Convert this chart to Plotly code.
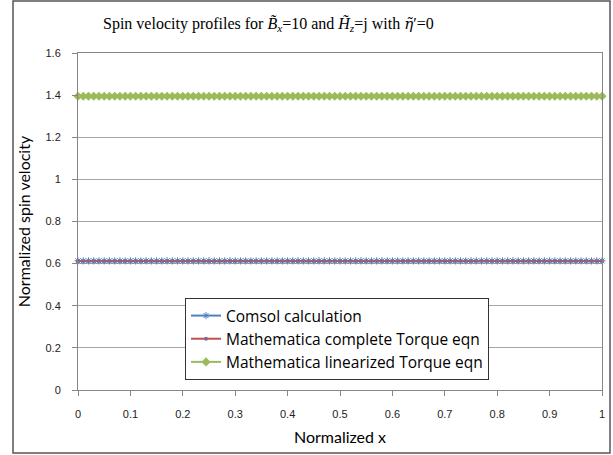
import plotly.graph_objects as go

x_norm = [i / 100 for i in range(101)]
comsol = [0.613] * len(x_norm)
math_complete = [0.613] * len(x_norm)
math_linear = [1.395] * len(x_norm)

y_ticks = [0, 0.2, 0.4, 0.6, 0.8, 1, 1.2, 1.4, 1.6]
x_ticks = [0, 0.1, 0.2, 0.3, 0.4, 0.5, 0.6, 0.7, 0.8, 0.9, 1]

fig = go.Figure()
fig.add_trace(go.Scatter(
    x=x_norm, y=comsol, mode="lines+markers", name="Comsol calculation",
    line=dict(color="#4F81BD", width=2), cliponaxis=False,
    marker=dict(symbol="asterisk-open", size=6, color="#4F81BD",
                line=dict(color="#4F81BD", width=1))))
fig.add_trace(go.Scatter(
    x=x_norm, y=math_complete, mode="lines+markers",
    name="Mathematica complete Torque eqn", cliponaxis=False,
    line=dict(color="#C0504D", width=2),
    marker=dict(symbol="circle", size=4, color="#7F6A92")))
fig.add_trace(go.Scatter(
    x=x_norm, y=math_linear, mode="lines+markers",
    name="Mathematica linearized Torque eqn", cliponaxis=False,
    line=dict(color="#9BBB59", width=2),
    marker=dict(symbol="diamond", size=7, color="#9BBB59")))

tick_font = dict(family="Liberation Sans, Arial", size=11, color="#222222")
label_font = dict(family="Lato, Liberation Sans", size=16, color="#000000")

fig.update_layout(
    width=613, height=455,
    margin=dict(l=78, r=11, t=53, b=65, autoexpand=False),
    paper_bgcolor="white", plot_bgcolor="white",
    showlegend=True,
    legend=dict(x=(185 - 78) / 524, y=(390 - 298) / 337,
                xanchor="left", yanchor="top",
                bgcolor="white", bordercolor="#333333", borderwidth=1,
                font=dict(family="Open Sans, Liberation Sans", size=15.5,
                          color="#000000"),
                tracegroupgap=0, itemwidth=30),
    xaxis=dict(range=[0, 1], tickvals=x_ticks,
               ticktext=[f"{v:g}" for v in x_ticks],
               showgrid=False, zeroline=False, automargin=False,
               showline=True, linecolor="#868686", linewidth=1, mirror=True,
               ticks="outside", ticklen=5, tickcolor="#868686",
               tickfont=tick_font, ticklabelstandoff=9,
               title=dict(text="Normalized x", font=label_font, standoff=12)),
    yaxis=dict(range=[0, 1.6], tickvals=y_ticks,
               ticktext=[f"{v:g}" for v in y_ticks],
               showgrid=True, gridcolor="#A6A6A6", gridwidth=1,
               zeroline=False, automargin=False,
               showline=True, linecolor="#868686", linewidth=1, mirror=True,
               ticks="outside", ticklen=5, tickcolor="#868686",
               tickfont=tick_font, ticklabelstandoff=9,
               title=dict(text="Normalized spin velocity", font=label_font,
                          standoff=10)),
    annotations=[dict(
        text="Spin velocity profiles for <i>B̃</i><sub><i>x</i></sub>=10 and "
             "<i>H̃</i><sub><i>z</i></sub>=j with "
             "<span style=\"font-family:DejaVu Serif;font-size:15px\"><i>η̃</i></span>′=0",
        xref="paper", yref="paper", x=(268 - 78) / 524, y=(390 - 24) / 337,
        xanchor="center", yanchor="middle", showarrow=False,
        font=dict(family="Liberation Serif, Times New Roman", size=16,
                  color="#000000"))],
    shapes=[dict(type="rect", xref="paper", yref="paper",
                 x0=(13 - 78) / 524, x1=(610 - 78) / 524,
                 y0=(390 - 453) / 337, y1=(390 - 1) / 337,
                 line=dict(color="#555555", width=1.5), layer="below")],
)

fig.write_html("out.html", config={"displayModeBar": False},
               post_script="document.body.style.margin='0';"
                           "document.body.style.overflow='hidden';")
